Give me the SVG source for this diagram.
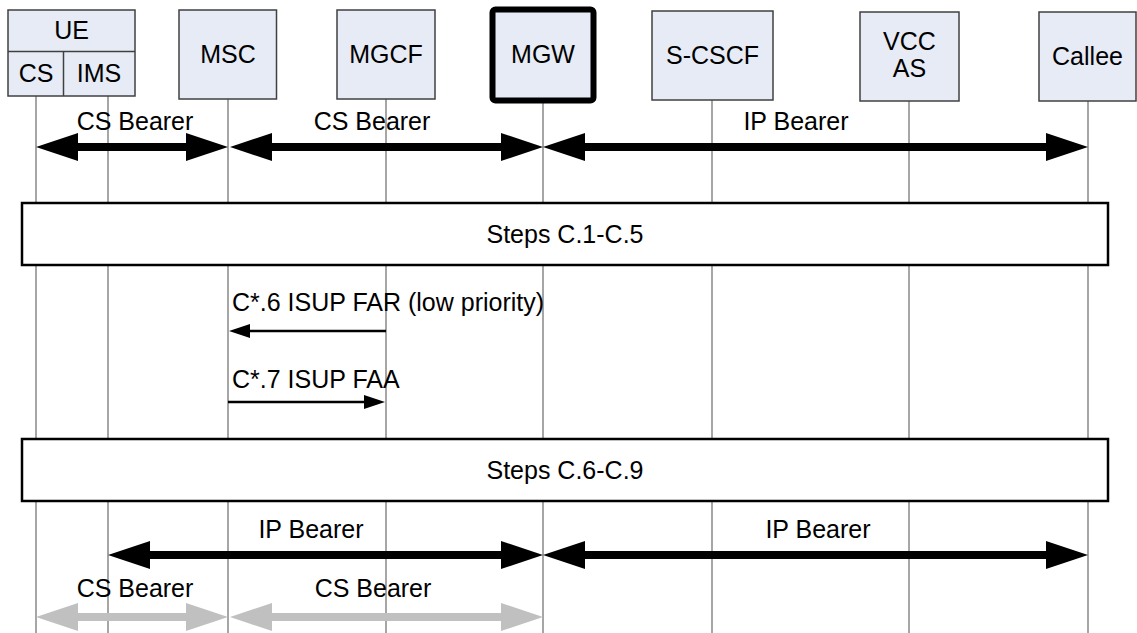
<svg xmlns="http://www.w3.org/2000/svg" width="1137" height="633" viewBox="0 0 1137 633">
<style>
.bg{fill:#ffffff}
.node{fill:#e6ebf5;stroke:#404040;stroke-width:1.5}
.mgw{fill:#e6ebf5;stroke:#000000;stroke-width:6}
.life{stroke:#a6a6a6;stroke-width:2;fill:none}
.step{fill:#ffffff;stroke:#000000;stroke-width:2.5}
.t{font-family:"Liberation Sans",Arial,Helvetica,sans-serif;font-size:25px;fill:#000000}
.c{text-anchor:middle}
.heavy{stroke:#000000;stroke-width:8;fill:none;marker-start:url(#hb);marker-end:url(#hb)}
.heavyg{stroke:#c0c0c0;stroke-width:8;fill:none;marker-start:url(#hg);marker-end:url(#hg)}
.msg{stroke:#000000;stroke-width:2.5;fill:none;marker-end:url(#ms)}
</style>
<defs>
<marker id="hb" markerUnits="userSpaceOnUse" markerWidth="42" markerHeight="28" refX="22" refY="14" orient="auto-start-reverse" viewBox="0 0 42 28">
<path d="M0,0 L42,14 L0,28 z" fill="#000000"/>
</marker>
<marker id="hg" markerUnits="userSpaceOnUse" markerWidth="42" markerHeight="28" refX="22" refY="14" orient="auto-start-reverse" viewBox="0 0 42 28">
<path d="M0,0 L42,14 L0,28 z" fill="#c0c0c0"/>
</marker>
<marker id="ms" markerUnits="userSpaceOnUse" markerWidth="21" markerHeight="14" refX="11" refY="7" orient="auto" viewBox="0 0 21 14">
<path d="M0,0 L21,7 L0,14 z" fill="#000000"/>
</marker>
</defs>
<rect class="bg" x="0" y="0" width="1137" height="633"/>

<g id="lifelines">
<line class="life" x1="36" y1="96" x2="36" y2="633"/>
<line class="life" x1="108" y1="96" x2="108" y2="633"/>
<line class="life" x1="228" y1="99" x2="228" y2="633"/>
<line class="life" x1="386" y1="99" x2="386" y2="633"/>
<line class="life" x1="543" y1="100" x2="543" y2="633"/>
<line class="life" x1="712" y1="100" x2="712" y2="633"/>
<line class="life" x1="909" y1="101" x2="909" y2="633"/>
<line class="life" x1="1088" y1="101" x2="1088" y2="633"/>
</g>

<g id="node-ue">
<rect class="node" x="8" y="10" width="127" height="86"/>
<line x1="8" y1="51.5" x2="135" y2="51.5" stroke="#404040" stroke-width="1.5"/>
<line x1="63.5" y1="51.5" x2="63.5" y2="96" stroke="#404040" stroke-width="1.5"/>
<text class="t c" x="71.5" y="39">UE</text>
<text class="t c" x="36" y="82">CS</text>
<text class="t c" x="99" y="82">IMS</text>
</g>
<g id="node-msc">
<rect class="node" x="179" y="10" width="97.5" height="89"/>
<text class="t c" x="228" y="63">MSC</text>
</g>
<g id="node-mgcf">
<rect class="node" x="337" y="10" width="98" height="89"/>
<text class="t c" x="386" y="63">MGCF</text>
</g>
<g id="node-mgw">
<rect class="mgw" x="492.5" y="9.5" width="101" height="91" rx="3"/>
<text class="t c" x="543" y="63">MGW</text>
</g>
<g id="node-scscf">
<rect class="node" x="652" y="11" width="121" height="89"/>
<text class="t c" x="712.5" y="64">S-CSCF</text>
</g>
<g id="node-vccas">
<rect class="node" x="860" y="12" width="99" height="89"/>
<text class="t c" x="909.5" y="50">VCC</text>
<text class="t c" x="909.5" y="77">AS</text>
</g>
<g id="node-callee">
<rect class="node" x="1039" y="12" width="97" height="89"/>
<text class="t c" x="1087.5" y="65">Callee</text>
</g>

<g id="step-c1-c5">
<rect class="step" x="22" y="203" width="1086" height="62"/>
<text class="t c" x="565" y="243">Steps C.1-C.5</text>
</g>
<g id="step-c6-c9">
<rect class="step" x="22" y="439" width="1086" height="62"/>
<text class="t c" x="565" y="479">Steps C.6-C.9</text>
</g>

<g id="connectors">
<line class="heavy" x1="56" y1="147" x2="208" y2="147"/>
<line class="heavy" x1="250" y1="147" x2="523" y2="147"/>
<line class="heavy" x1="563" y1="147" x2="1068" y2="147"/>
<line class="msg" x1="386" y1="331" x2="239" y2="331"/>
<line class="msg" x1="228" y1="402" x2="375" y2="402"/>
<line class="heavy" x1="128" y1="555" x2="523" y2="555"/>
<line class="heavy" x1="563" y1="555" x2="1068" y2="555"/>
<line class="heavyg" x1="56" y1="617" x2="208" y2="617"/>
<line class="heavyg" x1="250" y1="617" x2="523" y2="617"/>
</g>

<g id="labels">
<text class="t c" x="135" y="130">CS Bearer</text>
<text class="t c" x="372" y="130">CS Bearer</text>
<text class="t c" x="796" y="130">IP Bearer</text>
<text class="t" x="232" y="311">C*.6 ISUP FAR (low priority)</text>
<text class="t" x="232" y="388">C*.7 ISUP FAA</text>
<text class="t c" x="311" y="538">IP Bearer</text>
<text class="t c" x="818" y="538">IP Bearer</text>
<text class="t c" x="135" y="597">CS Bearer</text>
<text class="t c" x="373" y="597">CS Bearer</text>
</g>
</svg>
